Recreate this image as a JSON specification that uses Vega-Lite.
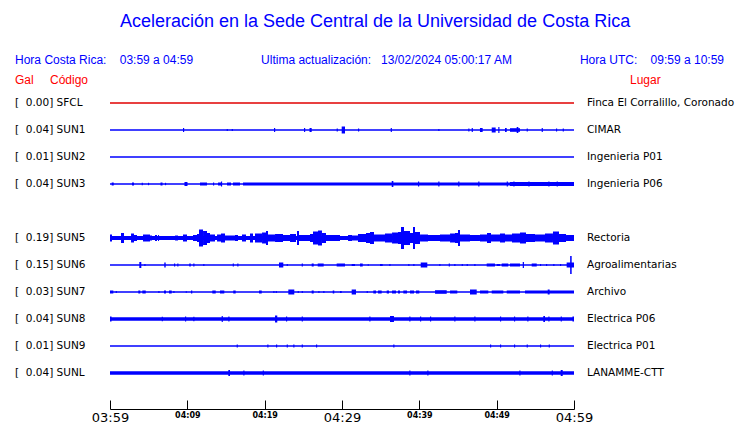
{
 "$schema": "https://vega.github.io/schema/vega-lite/v6.json",
 "width": 464,
 "height": 333,
 "autosize": {"type": "none"},
 "padding": {"left": 110, "top": 76, "right": 166, "bottom": 14},
 "background": "#ffffff",
 "config": {"view": {"stroke": null}},
 "datasets": {
  "stations": [
   {"code": "SFCL", "row": 0, "gal": 0.00, "place": "Finca El Corralillo, Coronado"},
   {"code": "SUN1", "row": 1, "gal": 0.04, "place": "CIMAR"},
   {"code": "SUN2", "row": 2, "gal": 0.01, "place": "Ingenieria P01"},
   {"code": "SUN3", "row": 3, "gal": 0.04, "place": "Ingenieria P06"},
   {"code": "SUN5", "row": 5, "gal": 0.19, "place": "Rectoria"},
   {"code": "SUN6", "row": 6, "gal": 0.15, "place": "Agroalimentarias"},
   {"code": "SUN7", "row": 7, "gal": 0.03, "place": "Archivo"},
   {"code": "SUN8", "row": 8, "gal": 0.04, "place": "Electrica P06"},
   {"code": "SUN9", "row": 9, "gal": 0.01, "place": "Electrica P01"},
   {"code": "SUNL", "row": 10, "gal": 0.04, "place": "LANAMME-CTT"}
  ],
  "segs": [
   {"s": "SUN1", "t0": 9.44, "t1": 9.59, "amp": 2},
   {"s": "SUN1", "t0": 15.09, "t1": 15.24, "amp": 1},
   {"s": "SUN1", "t0": 15.74, "t1": 15.89, "amp": 1},
   {"s": "SUN1", "t0": 21.21, "t1": 21.36, "amp": 2},
   {"s": "SUN1", "t0": 25.09, "t1": 25.24, "amp": 2},
   {"s": "SUN1", "t0": 25.80, "t1": 26.08, "amp": 2},
   {"s": "SUN1", "t0": 29.31, "t1": 29.46, "amp": 1.5},
   {"s": "SUN1", "t0": 29.96, "t1": 30.39, "amp": 3.5},
   {"s": "SUN1", "t0": 32.07, "t1": 32.22, "amp": 1.5},
   {"s": "SUN1", "t0": 36.30, "t1": 36.45, "amp": 2},
   {"s": "SUN1", "t0": 42.45, "t1": 42.60, "amp": 1},
   {"s": "SUN1", "t0": 46.33, "t1": 46.48, "amp": 1.5},
   {"s": "SUN1", "t0": 46.77, "t1": 46.92, "amp": 2},
   {"s": "SUN1", "t0": 47.84, "t1": 48.19, "amp": 2},
   {"s": "SUN1", "t0": 49.36, "t1": 49.87, "amp": 2.5},
   {"s": "SUN1", "t0": 50.21, "t1": 50.36, "amp": 3},
   {"s": "SUN1", "t0": 51.08, "t1": 51.30, "amp": 2},
   {"s": "SUN1", "t0": 51.72, "t1": 53.02, "amp": 1.8},
   {"s": "SUN1", "t0": 52.59, "t1": 52.80, "amp": 3},
   {"s": "SUN1", "t0": 53.88, "t1": 54.03, "amp": 1.5},
   {"s": "SUN1", "t0": 55.82, "t1": 55.97, "amp": 2},
   {"s": "SUN1", "t0": 57.67, "t1": 57.82, "amp": 1.5},
   {"s": "SUN1", "t0": 58.54, "t1": 58.69, "amp": 1.5},

   {"s": "SUN3", "t0": 0.22, "t1": 0.48, "amp": 1.5},
   {"s": "SUN3", "t0": 2.84, "t1": 3.10, "amp": 1.5},
   {"s": "SUN3", "t0": 4.10, "t1": 4.25, "amp": 1.2},
   {"s": "SUN3", "t0": 4.91, "t1": 5.06, "amp": 1.2},
   {"s": "SUN3", "t0": 6.53, "t1": 6.79, "amp": 1.5},
   {"s": "SUN3", "t0": 7.11, "t1": 7.26, "amp": 1.2},
   {"s": "SUN3", "t0": 9.63, "t1": 10.02, "amp": 2},
   {"s": "SUN3", "t0": 11.64, "t1": 12.54, "amp": 1.5},
   {"s": "SUN3", "t0": 13.32, "t1": 13.47, "amp": 1.5},
   {"s": "SUN3", "t0": 13.97, "t1": 14.48, "amp": 1.5},
   {"s": "SUN3", "t0": 14.35, "t1": 14.50, "amp": 2.5},
   {"s": "SUN3", "t0": 15.13, "t1": 15.65, "amp": 1.5},
   {"s": "SUN3", "t0": 15.90, "t1": 16.81, "amp": 1.5},
   {"s": "SUN3", "t0": 17.20, "t1": 60, "amp": 1.5},
   {"s": "SUN3", "t0": 36.43, "t1": 36.64, "amp": 3},
   {"s": "SUN3", "t0": 39.83, "t1": 39.98, "amp": 2.5},
   {"s": "SUN3", "t0": 42.45, "t1": 42.60, "amp": 2.5},
   {"s": "SUN3", "t0": 45.03, "t1": 45.18, "amp": 2.5},
   {"s": "SUN3", "t0": 47.62, "t1": 47.77, "amp": 2.5},
   {"s": "SUN3", "t0": 51.30, "t1": 51.45, "amp": 2.5},
   {"s": "SUN3", "t0": 51.72, "t1": 60, "amp": 2},
   {"s": "SUN3", "t0": 52.16, "t1": 52.31, "amp": 2.5},
   {"s": "SUN3", "t0": 54.10, "t1": 54.25, "amp": 2.5},
   {"s": "SUN3", "t0": 56.68, "t1": 56.83, "amp": 2.5},
   {"s": "SUN3", "t0": 57.76, "t1": 57.91, "amp": 2.5},

   {"s": "SUN5", "t0": 0, "t1": 60, "amp": 2},
   {"s": "SUN5", "t0": 0.00, "t1": 0.26, "amp": 3.5},
   {"s": "SUN5", "t0": 1.42, "t1": 1.81, "amp": 5},
   {"s": "SUN5", "t0": 2.72, "t1": 3.10, "amp": 4.5},
   {"s": "SUN5", "t0": 3.10, "t1": 3.49, "amp": 3},
   {"s": "SUN5", "t0": 4.27, "t1": 5.17, "amp": 3.5},
   {"s": "SUN5", "t0": 5.17, "t1": 5.43, "amp": 2.5},
   {"s": "SUN5", "t0": 5.82, "t1": 6.08, "amp": 3},
   {"s": "SUN5", "t0": 6.21, "t1": 6.34, "amp": 3},
   {"s": "SUN5", "t0": 8.41, "t1": 8.79, "amp": 2.5},
   {"s": "SUN5", "t0": 9.44, "t1": 9.96, "amp": 3.5},
   {"s": "SUN5", "t0": 10.73, "t1": 11.25, "amp": 3},
   {"s": "SUN5", "t0": 11.25, "t1": 11.51, "amp": 4},
   {"s": "SUN5", "t0": 11.51, "t1": 12.03, "amp": 8.5},
   {"s": "SUN5", "t0": 12.03, "t1": 12.54, "amp": 7},
   {"s": "SUN5", "t0": 12.54, "t1": 12.93, "amp": 5},
   {"s": "SUN5", "t0": 12.93, "t1": 13.58, "amp": 3.5},
   {"s": "SUN5", "t0": 13.84, "t1": 14.35, "amp": 3.5},
   {"s": "SUN5", "t0": 14.35, "t1": 14.87, "amp": 4.5},
   {"s": "SUN5", "t0": 14.87, "t1": 16.16, "amp": 2.5},
   {"s": "SUN5", "t0": 16.16, "t1": 16.55, "amp": 3},
   {"s": "SUN5", "t0": 17.07, "t1": 17.59, "amp": 3.5},
   {"s": "SUN5", "t0": 18.10, "t1": 18.49, "amp": 4.5},
   {"s": "SUN5", "t0": 18.75, "t1": 19.66, "amp": 4.5},
   {"s": "SUN5", "t0": 19.66, "t1": 20.17, "amp": 5.5},
   {"s": "SUN5", "t0": 20.17, "t1": 20.43, "amp": 7},
   {"s": "SUN5", "t0": 20.43, "t1": 21.34, "amp": 3.5},
   {"s": "SUN5", "t0": 21.34, "t1": 22.37, "amp": 4},
   {"s": "SUN5", "t0": 22.37, "t1": 23.28, "amp": 3},
   {"s": "SUN5", "t0": 23.28, "t1": 24.05, "amp": 4},
   {"s": "SUN5", "t0": 24.18, "t1": 24.44, "amp": 7},
   {"s": "SUN5", "t0": 24.44, "t1": 25.86, "amp": 3},
   {"s": "SUN5", "t0": 25.86, "t1": 26.25, "amp": 4},
   {"s": "SUN5", "t0": 26.25, "t1": 26.90, "amp": 6.5},
   {"s": "SUN5", "t0": 26.90, "t1": 27.41, "amp": 7.5},
   {"s": "SUN5", "t0": 27.41, "t1": 27.93, "amp": 5},
   {"s": "SUN5", "t0": 27.93, "t1": 29.74, "amp": 3},
   {"s": "SUN5", "t0": 30.78, "t1": 31.29, "amp": 3},
   {"s": "SUN5", "t0": 31.29, "t1": 32.07, "amp": 2.5},
   {"s": "SUN5", "t0": 32.07, "t1": 33.10, "amp": 4},
   {"s": "SUN5", "t0": 33.10, "t1": 33.62, "amp": 5},
   {"s": "SUN5", "t0": 33.62, "t1": 34.14, "amp": 6},
   {"s": "SUN5", "t0": 34.14, "t1": 35.56, "amp": 3.5},
   {"s": "SUN5", "t0": 35.56, "t1": 36.47, "amp": 4.5},
   {"s": "SUN5", "t0": 36.47, "t1": 37.24, "amp": 5.5},
   {"s": "SUN5", "t0": 37.24, "t1": 37.63, "amp": 6},
   {"s": "SUN5", "t0": 37.63, "t1": 38.02, "amp": 11},
   {"s": "SUN5", "t0": 38.02, "t1": 38.79, "amp": 7},
   {"s": "SUN5", "t0": 38.79, "t1": 39.18, "amp": 5},
   {"s": "SUN5", "t0": 39.18, "t1": 39.44, "amp": 11},
   {"s": "SUN5", "t0": 39.44, "t1": 40.09, "amp": 6},
   {"s": "SUN5", "t0": 40.09, "t1": 41.12, "amp": 3.5},
   {"s": "SUN5", "t0": 41.12, "t1": 42.67, "amp": 3},
   {"s": "SUN5", "t0": 42.67, "t1": 43.97, "amp": 3.5},
   {"s": "SUN5", "t0": 43.97, "t1": 44.61, "amp": 4.5},
   {"s": "SUN5", "t0": 44.61, "t1": 45.00, "amp": 5},
   {"s": "SUN5", "t0": 45.00, "t1": 45.26, "amp": 8},
   {"s": "SUN5", "t0": 45.26, "t1": 46.55, "amp": 3.5},
   {"s": "SUN5", "t0": 46.55, "t1": 47.84, "amp": 3},
   {"s": "SUN5", "t0": 47.84, "t1": 48.75, "amp": 3.5},
   {"s": "SUN5", "t0": 48.75, "t1": 49.27, "amp": 5},
   {"s": "SUN5", "t0": 49.27, "t1": 50.43, "amp": 3.5},
   {"s": "SUN5", "t0": 50.43, "t1": 51.08, "amp": 4.5},
   {"s": "SUN5", "t0": 51.08, "t1": 51.98, "amp": 3.5},
   {"s": "SUN5", "t0": 51.98, "t1": 53.02, "amp": 4.5},
   {"s": "SUN5", "t0": 53.02, "t1": 53.79, "amp": 5.5},
   {"s": "SUN5", "t0": 53.79, "t1": 54.96, "amp": 4},
   {"s": "SUN5", "t0": 54.96, "t1": 56.25, "amp": 3.5},
   {"s": "SUN5", "t0": 56.25, "t1": 57.28, "amp": 4.5},
   {"s": "SUN5", "t0": 57.28, "t1": 58.06, "amp": 6.5},
   {"s": "SUN5", "t0": 58.06, "t1": 58.97, "amp": 4},
   {"s": "SUN5", "t0": 58.97, "t1": 60.00, "amp": 3},

   {"s": "SUN6", "t0": 3.79, "t1": 4.05, "amp": 3},
   {"s": "SUN6", "t0": 4.44, "t1": 4.59, "amp": 1},
   {"s": "SUN6", "t0": 7.02, "t1": 7.20, "amp": 2.5},
   {"s": "SUN6", "t0": 8.28, "t1": 8.43, "amp": 1.5},
   {"s": "SUN6", "t0": 8.70, "t1": 8.85, "amp": 1.5},
   {"s": "SUN6", "t0": 10.25, "t1": 10.44, "amp": 1.5},
   {"s": "SUN6", "t0": 10.77, "t1": 10.92, "amp": 1.5},
   {"s": "SUN6", "t0": 12.06, "t1": 12.21, "amp": 1},
   {"s": "SUN6", "t0": 15.87, "t1": 16.02, "amp": 1.5},
   {"s": "SUN6", "t0": 16.46, "t1": 16.61, "amp": 1.5},
   {"s": "SUN6", "t0": 21.85, "t1": 22.41, "amp": 2.5},
   {"s": "SUN6", "t0": 22.85, "t1": 23.00, "amp": 1},
   {"s": "SUN6", "t0": 24.79, "t1": 24.94, "amp": 1.5},
   {"s": "SUN6", "t0": 26.08, "t1": 26.34, "amp": 1.5},
   {"s": "SUN6", "t0": 26.86, "t1": 27.63, "amp": 1.5},
   {"s": "SUN6", "t0": 29.31, "t1": 30.39, "amp": 1.5},
   {"s": "SUN6", "t0": 31.25, "t1": 31.68, "amp": 1},
   {"s": "SUN6", "t0": 32.33, "t1": 32.68, "amp": 1.5},
   {"s": "SUN6", "t0": 33.32, "t1": 33.47, "amp": 0.8},
   {"s": "SUN6", "t0": 34.91, "t1": 35.26, "amp": 1},
   {"s": "SUN6", "t0": 36.12, "t1": 36.27, "amp": 1},
   {"s": "SUN6", "t0": 38.57, "t1": 38.72, "amp": 1},
   {"s": "SUN6", "t0": 39.22, "t1": 39.37, "amp": 1},
   {"s": "SUN6", "t0": 40.18, "t1": 41.03, "amp": 2.5},
   {"s": "SUN6", "t0": 42.58, "t1": 42.73, "amp": 1},
   {"s": "SUN6", "t0": 43.80, "t1": 43.95, "amp": 1.5},
   {"s": "SUN6", "t0": 44.52, "t1": 44.67, "amp": 1},
   {"s": "SUN6", "t0": 45.48, "t1": 45.63, "amp": 1},
   {"s": "SUN6", "t0": 46.12, "t1": 46.27, "amp": 1},
   {"s": "SUN6", "t0": 47.11, "t1": 47.26, "amp": 1},
   {"s": "SUN6", "t0": 48.71, "t1": 49.78, "amp": 1.5},
   {"s": "SUN6", "t0": 50.00, "t1": 50.43, "amp": 1},
   {"s": "SUN6", "t0": 50.65, "t1": 51.50, "amp": 1.5},
   {"s": "SUN6", "t0": 51.72, "t1": 53.02, "amp": 1.5},
   {"s": "SUN6", "t0": 53.37, "t1": 53.53, "amp": 3},
   {"s": "SUN6", "t0": 54.53, "t1": 55.18, "amp": 1.5},
   {"s": "SUN6", "t0": 55.60, "t1": 55.75, "amp": 1},
   {"s": "SUN6", "t0": 56.38, "t1": 56.53, "amp": 1},
   {"s": "SUN6", "t0": 57.32, "t1": 57.47, "amp": 1},
   {"s": "SUN6", "t0": 58.19, "t1": 58.34, "amp": 1},
   {"s": "SUN6", "t0": 59.05, "t1": 60.00, "amp": 2.5},
   {"s": "SUN6", "t0": 59.50, "t1": 59.70, "amp": 9},

   {"s": "SUN7", "t0": 0.00, "t1": 0.43, "amp": 1.5},
   {"s": "SUN7", "t0": 0.74, "t1": 0.89, "amp": 1},
   {"s": "SUN7", "t0": 3.66, "t1": 3.92, "amp": 1.5},
   {"s": "SUN7", "t0": 4.18, "t1": 4.62, "amp": 1.5},
   {"s": "SUN7", "t0": 6.25, "t1": 6.40, "amp": 1},
   {"s": "SUN7", "t0": 6.98, "t1": 7.24, "amp": 1.5},
   {"s": "SUN7", "t0": 7.63, "t1": 7.98, "amp": 1.5},
   {"s": "SUN7", "t0": 8.19, "t1": 8.34, "amp": 1},
   {"s": "SUN7", "t0": 9.79, "t1": 9.94, "amp": 0.8},
   {"s": "SUN7", "t0": 10.47, "t1": 10.64, "amp": 1.5},
   {"s": "SUN7", "t0": 13.23, "t1": 13.67, "amp": 1.5},
   {"s": "SUN7", "t0": 14.22, "t1": 14.78, "amp": 1.5},
   {"s": "SUN7", "t0": 15.94, "t1": 16.25, "amp": 1.5},
   {"s": "SUN7", "t0": 19.27, "t1": 19.62, "amp": 1.5},
   {"s": "SUN7", "t0": 21.12, "t1": 21.27, "amp": 1},
   {"s": "SUN7", "t0": 21.43, "t1": 21.58, "amp": 1},
   {"s": "SUN7", "t0": 23.06, "t1": 23.83, "amp": 2.5},
   {"s": "SUN7", "t0": 24.27, "t1": 24.42, "amp": 1},
   {"s": "SUN7", "t0": 24.79, "t1": 24.94, "amp": 1},
   {"s": "SUN7", "t0": 26.08, "t1": 26.34, "amp": 1.5},
   {"s": "SUN7", "t0": 26.94, "t1": 27.09, "amp": 1},
   {"s": "SUN7", "t0": 27.58, "t1": 27.73, "amp": 1},
   {"s": "SUN7", "t0": 28.80, "t1": 29.00, "amp": 1.5},
   {"s": "SUN7", "t0": 29.74, "t1": 29.96, "amp": 1},
   {"s": "SUN7", "t0": 31.25, "t1": 31.81, "amp": 2.5},
   {"s": "SUN7", "t0": 33.19, "t1": 33.34, "amp": 1},
   {"s": "SUN7", "t0": 34.05, "t1": 34.40, "amp": 1.5},
   {"s": "SUN7", "t0": 34.66, "t1": 35.13, "amp": 1.5},
   {"s": "SUN7", "t0": 35.78, "t1": 36.08, "amp": 1.5},
   {"s": "SUN7", "t0": 36.47, "t1": 36.98, "amp": 1.5},
   {"s": "SUN7", "t0": 37.24, "t1": 37.50, "amp": 1.5},
   {"s": "SUN7", "t0": 37.93, "t1": 38.41, "amp": 1.5},
   {"s": "SUN7", "t0": 38.79, "t1": 39.31, "amp": 1.5},
   {"s": "SUN7", "t0": 39.57, "t1": 40.00, "amp": 1.5},
   {"s": "SUN7", "t0": 42.03, "t1": 43.54, "amp": 1.8},
   {"s": "SUN7", "t0": 43.97, "t1": 44.91, "amp": 1.5},
   {"s": "SUN7", "t0": 46.55, "t1": 47.42, "amp": 2.5},
   {"s": "SUN7", "t0": 47.84, "t1": 48.92, "amp": 1.5},
   {"s": "SUN7", "t0": 49.36, "t1": 50.86, "amp": 1.5},
   {"s": "SUN7", "t0": 51.30, "t1": 53.02, "amp": 1.5},
   {"s": "SUN7", "t0": 53.66, "t1": 60.00, "amp": 1.5},
   {"s": "SUN7", "t0": 56.60, "t1": 56.85, "amp": 2.5},

   {"s": "SUN8", "t0": 0, "t1": 60, "amp": 1.7},
   {"s": "SUN8", "t0": 0.00, "t1": 0.20, "amp": 2.5},
   {"s": "SUN8", "t0": 6.69, "t1": 6.84, "amp": 2.2},
   {"s": "SUN8", "t0": 9.70, "t1": 9.85, "amp": 2.5},
   {"s": "SUN8", "t0": 10.77, "t1": 10.92, "amp": 2.2},
   {"s": "SUN8", "t0": 14.44, "t1": 14.59, "amp": 3},
   {"s": "SUN8", "t0": 15.30, "t1": 15.45, "amp": 2.5},
   {"s": "SUN8", "t0": 21.34, "t1": 21.63, "amp": 3.5},
   {"s": "SUN8", "t0": 22.76, "t1": 22.91, "amp": 2.5},
   {"s": "SUN8", "t0": 24.79, "t1": 24.94, "amp": 2.5},
   {"s": "SUN8", "t0": 33.53, "t1": 33.68, "amp": 2.5},
   {"s": "SUN8", "t0": 36.21, "t1": 36.72, "amp": 3},
   {"s": "SUN8", "t0": 38.70, "t1": 38.85, "amp": 2.5},
   {"s": "SUN8", "t0": 40.09, "t1": 40.24, "amp": 2.5},
   {"s": "SUN8", "t0": 41.38, "t1": 41.53, "amp": 2.5},
   {"s": "SUN8", "t0": 44.52, "t1": 44.67, "amp": 2.5},
   {"s": "SUN8", "t0": 47.11, "t1": 47.26, "amp": 2.5},
   {"s": "SUN8", "t0": 50.43, "t1": 50.58, "amp": 2.5},
   {"s": "SUN8", "t0": 52.24, "t1": 52.39, "amp": 2.5},
   {"s": "SUN8", "t0": 53.96, "t1": 54.11, "amp": 2.5},
   {"s": "SUN8", "t0": 56.03, "t1": 56.25, "amp": 3},
   {"s": "SUN8", "t0": 56.68, "t1": 56.83, "amp": 2.5},
   {"s": "SUN8", "t0": 58.28, "t1": 58.43, "amp": 2.5},
   {"s": "SUN8", "t0": 59.80, "t1": 60.00, "amp": 2.5},

   {"s": "SUN9", "t0": 16.38, "t1": 16.53, "amp": 1.5},
   {"s": "SUN9", "t0": 20.34, "t1": 20.49, "amp": 1.5},
   {"s": "SUN9", "t0": 21.47, "t1": 21.62, "amp": 1.5},
   {"s": "SUN9", "t0": 22.85, "t1": 23.00, "amp": 1.5},
   {"s": "SUN9", "t0": 23.70, "t1": 23.85, "amp": 1.5},
   {"s": "SUN9", "t0": 24.79, "t1": 24.94, "amp": 1.5},
   {"s": "SUN9", "t0": 26.64, "t1": 26.79, "amp": 1.5},
   {"s": "SUN9", "t0": 36.63, "t1": 36.78, "amp": 1.5},
   {"s": "SUN9", "t0": 49.14, "t1": 49.29, "amp": 1.5},
   {"s": "SUN9", "t0": 50.43, "t1": 50.58, "amp": 1.5},
   {"s": "SUN9", "t0": 52.24, "t1": 52.39, "amp": 1.5},
   {"s": "SUN9", "t0": 53.88, "t1": 54.03, "amp": 1.5},
   {"s": "SUN9", "t0": 55.60, "t1": 55.75, "amp": 1.5},
   {"s": "SUN9", "t0": 56.73, "t1": 56.88, "amp": 1.5},

   {"s": "SUNL", "t0": 0, "t1": 60, "amp": 1.8},
   {"s": "SUNL", "t0": 15.30, "t1": 15.52, "amp": 3},
   {"s": "SUNL", "t0": 17.24, "t1": 17.39, "amp": 2.5},
   {"s": "SUNL", "t0": 19.75, "t1": 19.90, "amp": 2.5},
   {"s": "SUNL", "t0": 38.70, "t1": 38.85, "amp": 2.5},
   {"s": "SUNL", "t0": 41.03, "t1": 41.18, "amp": 2.5},
   {"s": "SUNL", "t0": 52.93, "t1": 53.08, "amp": 2.5},
   {"s": "SUNL", "t0": 57.12, "t1": 57.27, "amp": 2.5},
   {"s": "SUNL", "t0": 58.28, "t1": 58.54, "amp": 3}
  ]
 },
 "layer": [
  {
   "data": {"name": "stations"},
   "mark": {"type": "rule", "strokeWidth": 1.3},
   "encoding": {
    "x": {
     "datum": 0,
     "type": "quantitative",
     "scale": {"domain": [0, 60], "nice": false, "zero": false},
     "axis": {
      "values": [0, 5, 10, 15, 20, 25, 30, 35, 40, 45, 50, 55, 60],
      "title": null,
      "grid": false,
      "domainColor": "#000000",
      "domainWidth": 1,
      "tickColor": "#000000",
      "tickWidth": 1,
      "tickSize": -9,
      "labelPadding": 11,
      "labelColor": "#000000",
      "labelFont": "DejaVu Sans",
      "labelFontSize": {"condition": {"test": "datum.value % 30 == 0", "value": 13}, "value": 8},
      "labelFontWeight": {"condition": {"test": "datum.value % 30 == 0", "value": "normal"}, "value": "bold"},
      "labelExpr": "datum.value % 10 != 0 ? '' : '0' + floor((239 + datum.value) / 60) + ':' + (((239 + datum.value) % 60) < 10 ? '0' : '') + ((239 + datum.value) % 60)",
      "labelFlush": false,
      "labelOverlap": false,
      "labelBound": false
     }
    },
    "x2": {"datum": 60},
    "y": {
     "field": "row",
     "type": "quantitative",
     "scale": {"domain": [-1, 11.3333], "reverse": true, "nice": false, "zero": false},
     "axis": null
    },
    "color": {"condition": {"test": "datum.code == 'SFCL'", "value": "#e00000"}, "value": "#0000ff"}
   }
  },
  {
   "data": {"name": "segs"},
   "transform": [
    {"lookup": "s", "from": {"data": {"name": "stations"}, "key": "code", "fields": ["row"]}},
    {"calculate": "datum.row - datum.amp / 27", "as": "lo"},
    {"calculate": "datum.row + datum.amp / 27", "as": "hi"}
   ],
   "mark": {"type": "rect", "color": "#0000ff"},
   "encoding": {
    "x": {"field": "t0", "type": "quantitative"},
    "x2": {"field": "t1"},
    "y": {"field": "lo", "type": "quantitative"},
    "y2": {"field": "hi"}
   }
  },
  {
   "data": {"name": "stations"},
   "transform": [
    {"calculate": "'[\u00a0\u00a0' + format(datum.gal, '.2f') + '] ' + datum.code", "as": "label"}
   ],
   "mark": {"type": "text", "align": "left", "baseline": "middle", "font": "DejaVu Sans", "fontSize": 10.5, "color": "#000000"},
   "encoding": {
    "x": {"datum": -12.28},
    "y": {"field": "row", "type": "quantitative"},
    "text": {"field": "label"}
   }
  },
  {
   "data": {"name": "stations"},
   "mark": {"type": "text", "align": "left", "baseline": "middle", "font": "DejaVu Sans", "fontSize": 10.5, "color": "#000000"},
   "encoding": {
    "x": {"datum": 61.68},
    "y": {"field": "row", "type": "quantitative"},
    "text": {"field": "place"}
   }
  },
  {
   "data": {"values": [{"text": "Aceleración en la Sede Central de la Universidad de Costa Rica"}]},
   "mark": {"type": "text", "align": "center", "baseline": "middle", "font": "Liberation Sans", "fontSize": 18, "color": "#0000ff"},
   "encoding": {"x": {"datum": 34.27}, "y": {"datum": -3.0}, "text": {"field": "text"}}
  },
  {
   "data": {"values": [{"text": "Hora Costa Rica:\u00a0\u00a0\u00a0\u00a003:59 a 04:59"}]},
   "mark": {"type": "text", "align": "left", "baseline": "middle", "font": "Liberation Sans", "fontSize": 12, "color": "#0000ff"},
   "encoding": {"x": {"datum": -12.28}, "y": {"datum": -1.593}, "text": {"field": "text"}}
  },
  {
   "data": {"values": [{"text": "Ultima actualización:\u00a0\u00a0\u00a013/02/2024 05:00:17 AM"}]},
   "mark": {"type": "text", "align": "center", "baseline": "middle", "font": "Liberation Sans", "fontSize": 12, "color": "#0000ff"},
   "encoding": {"x": {"datum": 35.75}, "y": {"datum": -1.593}, "text": {"field": "text"}}
  },
  {
   "data": {"values": [{"text": "Hora UTC:\u00a0\u00a0\u00a0\u00a009:59 a 10:59"}]},
   "mark": {"type": "text", "align": "right", "baseline": "middle", "font": "Liberation Sans", "fontSize": 12, "color": "#0000ff"},
   "encoding": {"x": {"datum": 79.4}, "y": {"datum": -1.593}, "text": {"field": "text"}}
  },
  {
   "data": {"values": [{"text": "Gal"}]},
   "mark": {"type": "text", "align": "left", "baseline": "middle", "font": "Liberation Sans", "fontSize": 12, "color": "#ff0000"},
   "encoding": {"x": {"datum": -12.28}, "y": {"datum": -0.852}, "text": {"field": "text"}}
  },
  {
   "data": {"values": [{"text": "Código"}]},
   "mark": {"type": "text", "align": "left", "baseline": "middle", "font": "Liberation Sans", "fontSize": 12, "color": "#ff0000"},
   "encoding": {"x": {"datum": -7.76}, "y": {"datum": -0.852}, "text": {"field": "text"}}
  },
  {
   "data": {"values": [{"text": "Lugar"}]},
   "mark": {"type": "text", "align": "left", "baseline": "middle", "font": "Liberation Sans", "fontSize": 12, "color": "#ff0000"},
   "encoding": {"x": {"datum": 67.24}, "y": {"datum": -0.852}, "text": {"field": "text"}}
  }
 ]
}
